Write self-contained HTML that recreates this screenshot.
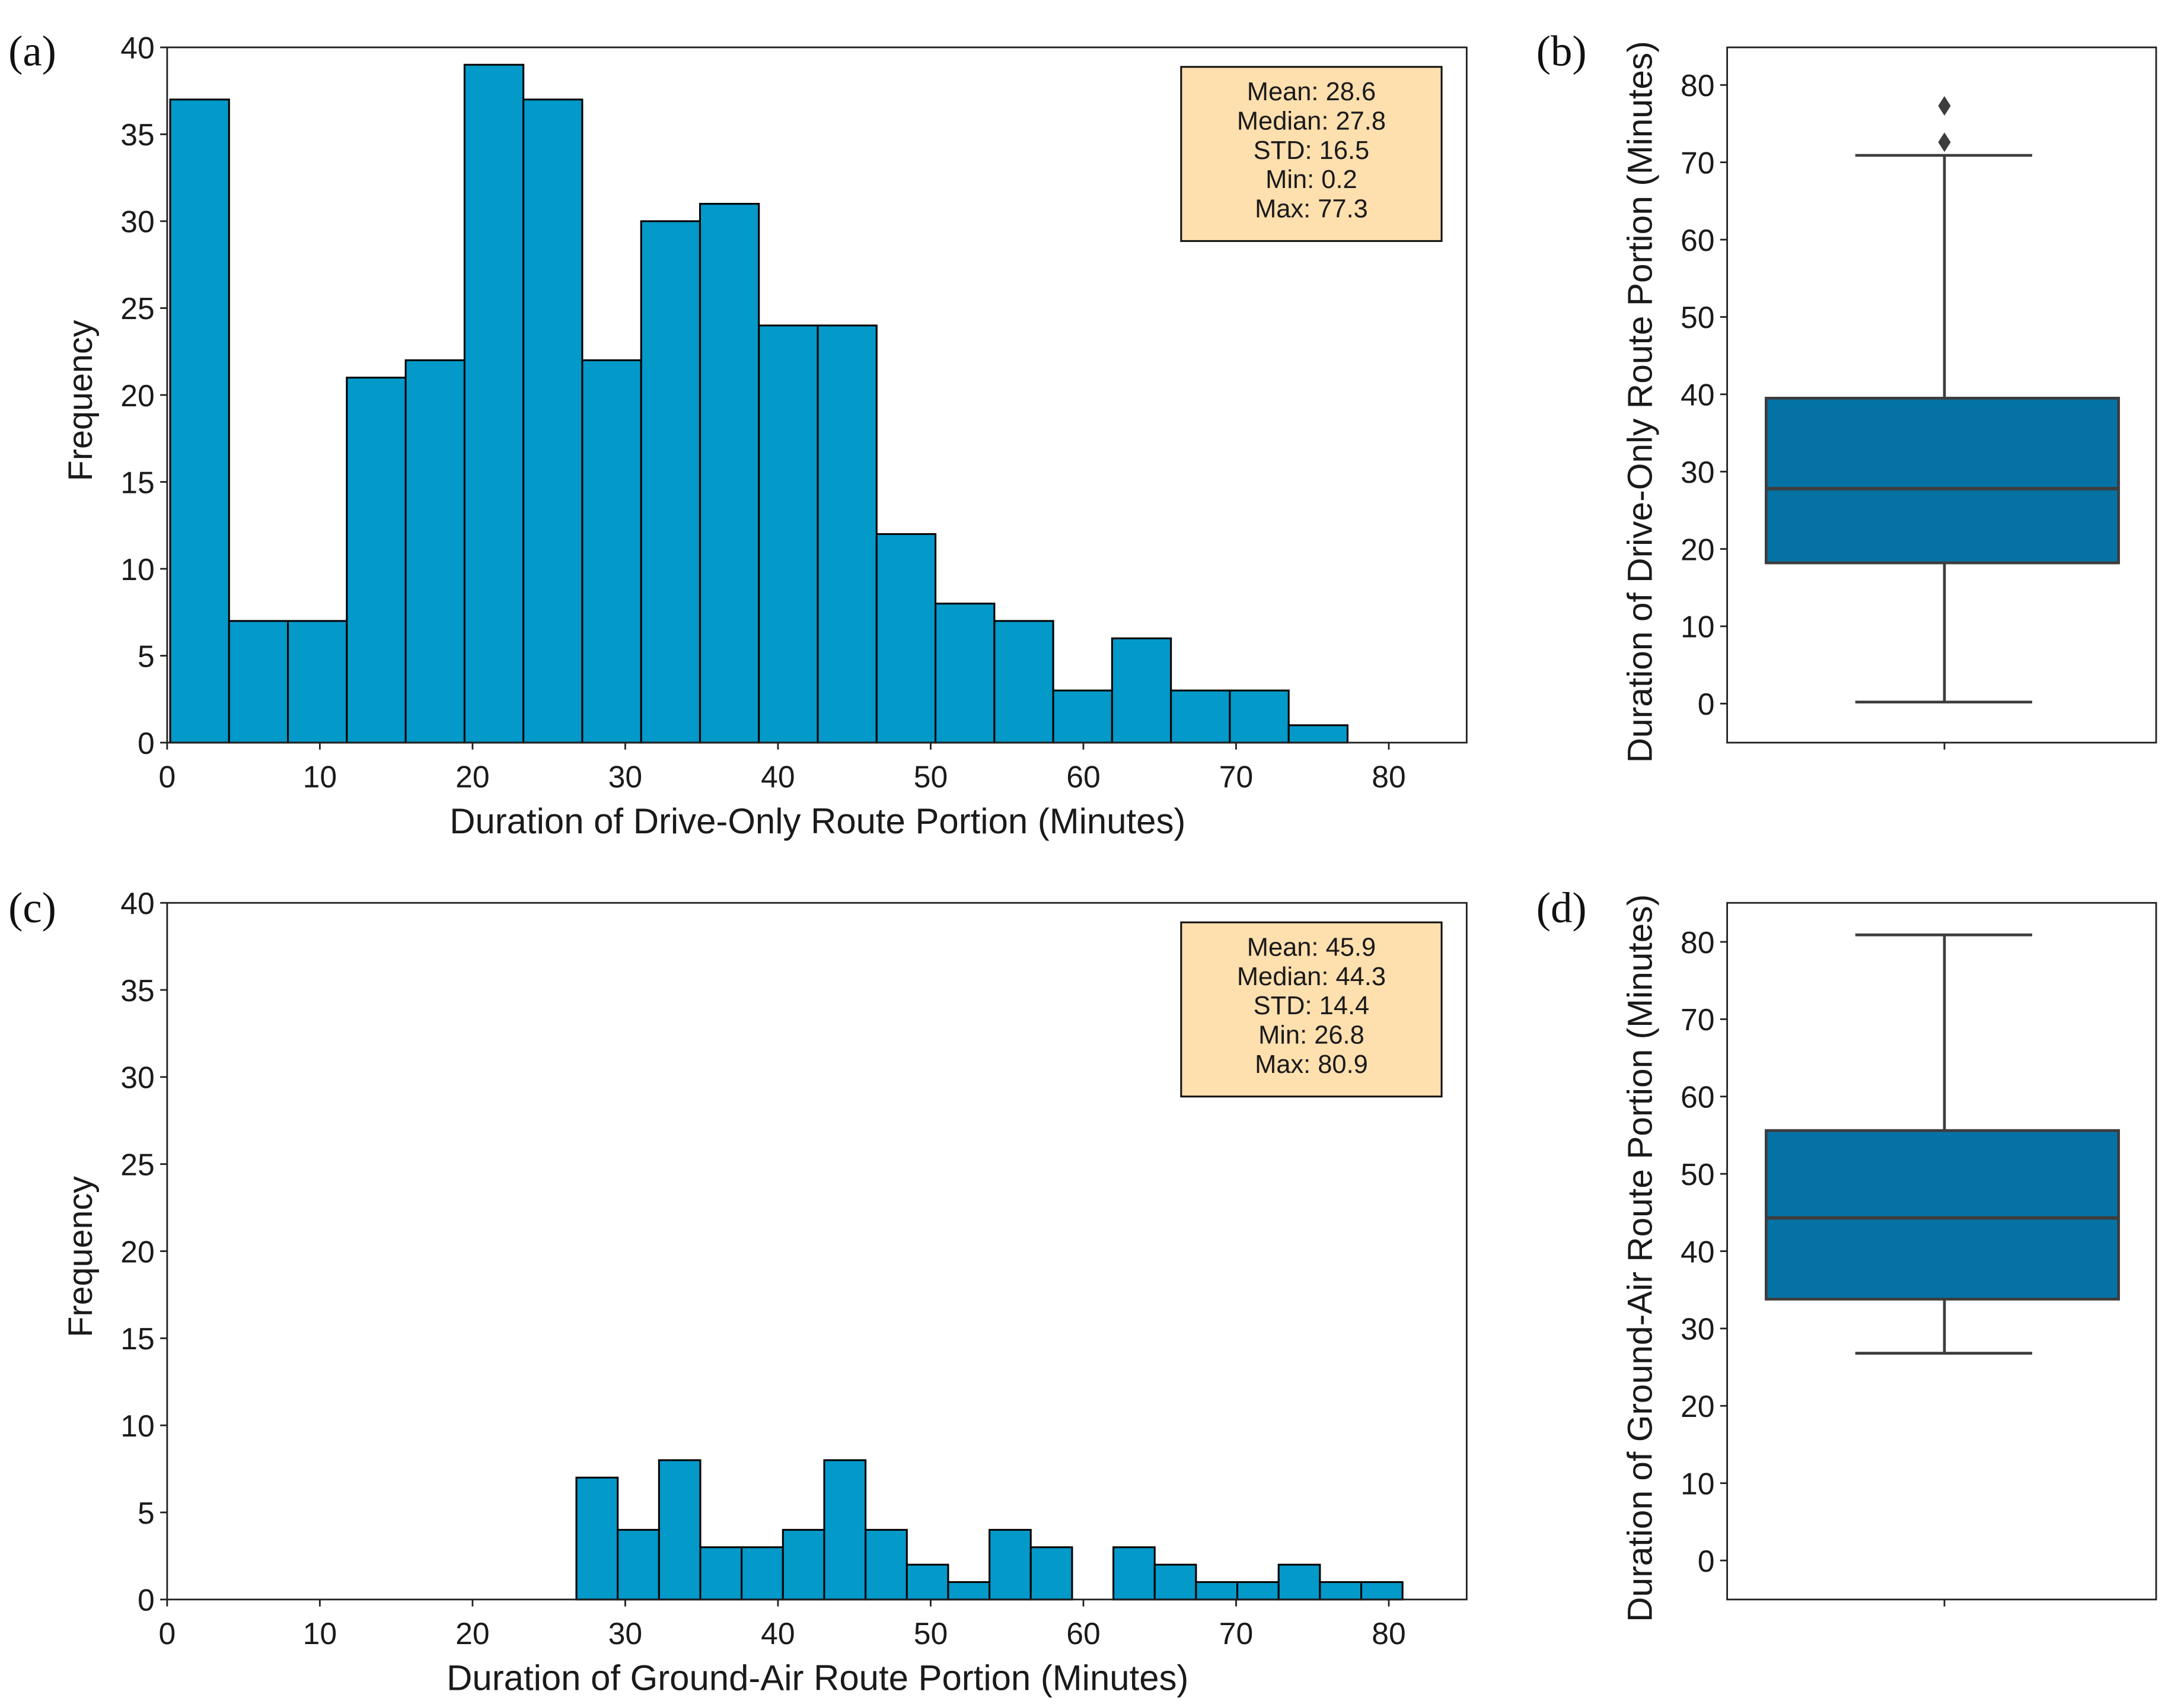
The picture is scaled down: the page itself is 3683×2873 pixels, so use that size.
<!DOCTYPE html>
<html><head><meta charset="utf-8"><style>
html,body{margin:0;padding:0;background:#fff;}
svg{display:block;}
text{font-family:"Liberation Sans",Arial,sans-serif;fill:#1a1a1a;}
.pl{font-family:"Liberation Serif",serif;font-size:31px;fill:#111;}
</style></head><body>
<svg id="fig" width="3683" height="2873" viewBox="0 0 1568 1223" preserveAspectRatio="none" xmlns="http://www.w3.org/2000/svg">
<text class="pl" x="6" y="47">(a)</text>
<text class="pl" x="1103" y="47">(b)</text>
<text class="pl" x="6" y="662">(c)</text>
<text class="pl" x="1103" y="662">(d)</text>
</svg>
<script>
const countsA=[37,7,7,21,22,39,37,22,30,31,24,24,12,8,7,3,6,3,3,1];
const rangeA=[0.2,77.3];
const countsC=[7,4,8,3,3,4,8,4,2,1,4,3,0,3,2,1,1,2,1,1];
const rangeC=[26.8,80.9];
const xTicks=[0,10,20,30,40,50,60,70,80];
const yTicksHist=[0,5,10,15,20,25,30,35,40];
const yTicksBox=[0,10,20,30,40,50,60,70,80];
const statsA=["Mean: 28.6","Median: 27.8","STD: 16.5","Min: 0.2","Max: 77.3"];
const statsC=["Mean: 45.9","Median: 44.3","STD: 14.4","Min: 26.8","Max: 80.9"];
const boxB=[0.2,18.2,27.8,39.5,70.9];
const outliersB=[72.6,77.3];
const boxD=[26.8,33.8,44.3,55.6,80.9];
const outliersD=[];

const svg=document.getElementById('fig');
const NS='http://www.w3.org/2000/svg';
function mk(tag,attrs,parent){const e=document.createElementNS(NS,tag);for(const k in attrs)e.setAttribute(k,attrs[k]);(parent||svg).appendChild(e);return e;}

function hist(L,R,T,B,counts,range,stats,xtitle,key){
  const g=mk('g',{});
  
  
  const xs=v=>L+(v/85.1)*(R-L);
  const ys=v=>B-(v/40)*(B-T);
  const n=counts.length,w=(range[1]-range[0])/n;
  counts.forEach((c,i)=>{
    if(c<=0)return;
    const x0=xs(range[0]+i*w),x1=xs(range[0]+(i+1)*w);
    const r=mk('rect',{x:x0,y:ys(c),width:x1-x0,height:ys(0)-ys(c),fill:'#0399c9',stroke:'#000','stroke-width':1.3},g);
    
    
  });
  const fr=mk('rect',{x:L,y:T,width:R-L,height:B-T,fill:'none',stroke:'#222','stroke-width':1.2},g);
  
  
  xTicks.forEach(t=>{
    mk('line',{x1:xs(t),x2:xs(t),y1:B,y2:B+5,stroke:'#222','stroke-width':1.2},g);
    const tx=mk('text',{x:xs(t),y:B+32,'text-anchor':'middle','font-size':22},g);
    tx.textContent=t;
    
    
  });
  yTicksHist.forEach(t=>{
    mk('line',{x1:L-5,x2:L,y1:ys(t),y2:ys(t),stroke:'#222','stroke-width':1.2},g);
    const tx=mk('text',{x:L-9,y:ys(t)+8,'text-anchor':'end','font-size':22},g);
    tx.textContent=t;
    
    
  });
  const xt=mk('text',{x:587,y:B+65,'text-anchor':'middle','font-size':25.5},g);
  xt.textContent=xtitle;
  
  
  const yt=mk('text',{x:0,y:0,'text-anchor':'middle','font-size':24.5,transform:`translate(66,${(T+B)/2+4}) rotate(-90)`},g);
  yt.textContent='Frequency';
  
  
  const sb=mk('rect',{x:848,y:T+14,width:187,height:125,fill:'#fedfae',stroke:'#111','stroke-width':1.3},g);
  
  
  stats.forEach((s,i)=>{
    const tx=mk('text',{x:941.5,y:T+38+i*21,'text-anchor':'middle','font-size':18.5},g);
    tx.textContent=s;
    
    
  });
}

function box(L,R,T,B,y80,y0,q,outs,ytitle,key){
  const g=mk('g',{});
  
  
  const ys=v=>y0-(v/80)*(y0-y80);
  const cx=1396,ec='#3d3d3d';
  mk('line',{x1:cx,x2:cx,y1:ys(q[0]),y2:ys(q[1]),stroke:ec,'stroke-width':2},g);
  mk('line',{x1:cx,x2:cx,y1:ys(q[3]),y2:ys(q[4]),stroke:ec,'stroke-width':2},g);
  const lw=mk('line',{x1:1332,x2:1459,y1:ys(q[0]),y2:ys(q[0]),stroke:ec,'stroke-width':2},g);
  
  
  const uw=mk('line',{x1:1332,x2:1459,y1:ys(q[4]),y2:ys(q[4]),stroke:ec,'stroke-width':2},g);
  
  
  const bx=mk('rect',{x:1268,y:ys(q[3]),width:253,height:ys(q[1])-ys(q[3]),fill:'#0572a6',stroke:ec,'stroke-width':2},g);
  
  
  const md=mk('line',{x1:1268,x2:1521,y1:ys(q[2]),y2:ys(q[2]),stroke:ec,'stroke-width':2.5},g);
  
  
  outs.forEach(o=>{
    const y=ys(o);
    const p=mk('polygon',{points:`${cx},${y-7} ${cx+4.5},${y} ${cx},${y+7} ${cx-4.5},${y}`,fill:ec},g);
    
    
  });
  const fr=mk('rect',{x:L,y:T,width:R-L,height:B-T,fill:'none',stroke:'#222','stroke-width':1.2},g);
  
  
  mk('line',{x1:cx,x2:cx,y1:B,y2:B+5,stroke:'#222','stroke-width':1.2},g);
  yTicksBox.forEach(t=>{
    mk('line',{x1:L-5,x2:L,y1:ys(t),y2:ys(t),stroke:'#222','stroke-width':1.2},g);
    const tx=mk('text',{x:L-9,y:ys(t)+8,'text-anchor':'end','font-size':22},g);
    tx.textContent=t;
    
    
  });
  const yt=mk('text',{x:0,y:0,'text-anchor':'middle','font-size':25,transform:`translate(1186,${(T+B)/2+5}) rotate(-90)`},g);
  yt.textContent=ytitle;
  
  
}

hist(120,1053,34,533,countsA,rangeA,statsA,'Duration of Drive-Only Route Portion (Minutes)','a');
hist(120,1053,648,1148,countsC,rangeC,statsC,'Duration of Ground-Air Route Portion (Minutes)','c');
box(1240,1548,34,533,61,505,boxB,outliersB,'Duration of Drive-Only Route Portion (Minutes)','b');
box(1240,1548,648,1148,676,1120,boxD,outliersD,'Duration of Ground-Air Route Portion (Minutes)','d');
</script>
</body></html>
